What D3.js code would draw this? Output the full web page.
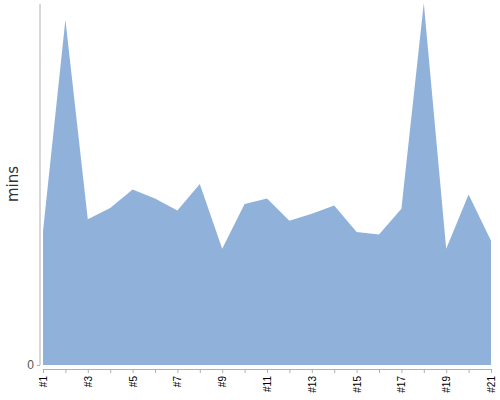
<!DOCTYPE html>
<html>
<head>
<meta charset="utf-8">
<script src="https://cdn.jsdelivr.net/npm/d3@7"></script>
<style>
	body { margin: 0; background: #fff; }
	svg { font-family: "DejaVu Sans", sans-serif; }
	.axis path, .axis line { stroke: #b0b0b0; }
</style>
</head>
<body>
<div id="chart"></div>
<script>
// runs #1..#21, duration in minutes
const categories = d3.range(1, 22).map(i => '#' + i);
const minutes = [16.7, 43.1, 18.2, 19.6, 21.9, 20.8, 19.3, 22.6, 14.5, 20.1, 20.8,
	18.0, 18.9, 19.9, 16.6, 16.3, 19.5, 45.2, 14.5, 21.3, 15.5];
const yTicks = [0];

const width = 500, height = 400;
const margin = { top: 3, right: 9, bottom: 35, left: 43 };

const svg = d3.select('#chart').append('svg')
	.attr('width', width)
	.attr('height', height);

const x = d3.scalePoint()
	.domain(categories)
	.range([margin.left, width - margin.right]);

const y = d3.scaleLinear()
	.domain([0, d3.max(minutes)])
	.range([height - margin.bottom, margin.top]);

const area = d3.area()
	.x((d, i) => x(categories[i]))
	.y0(y(0))
	.y1(d => y(d));

svg.append('path')
	.datum(minutes)
	.attr('fill', '#90b2da')
	.attr('d', area);

// x axis sits a few pixels below the area, labels on every other run
svg.append('g').attr('class', 'axis')
	.attr('transform', `translate(0, ${y(0) + 4})`)
	.call(d3.axisBottom(x).tickSize(4).tickSizeOuter(0)
		.tickFormat((d, i) => i % 2 === 0 ? d : ''))
	.call(g => g.selectAll('text')
		.attr('transform', 'rotate(-90)')
		.attr('text-anchor', 'end')
		.attr('x', -7).attr('y', 0).attr('dy', '0.35em')
		.attr('fill', '#000').attr('font-size', 10));

// y axis a few pixels left of the area
svg.append('g').attr('class', 'axis')
	.attr('transform', `translate(${margin.left - 3}, 0)`)
	.call(d3.axisLeft(y).tickValues(yTicks).tickSize(3).tickSizeOuter(0))
	.call(g => g.select('.domain').attr('d', `M0,${margin.top + 1}V${y(0)}`))
	.call(g => g.selectAll('text').attr('fill', '#555').attr('font-size', 12).attr('x', -6));

svg.append('text')
	.attr('transform', `translate(18, ${(margin.top + y(0)) / 2}) rotate(-90)`)
	.attr('text-anchor', 'middle')
	.attr('fill', '#333')
	.attr('font-size', 15)
	.text('mins');
</script>
</body>
</html>
